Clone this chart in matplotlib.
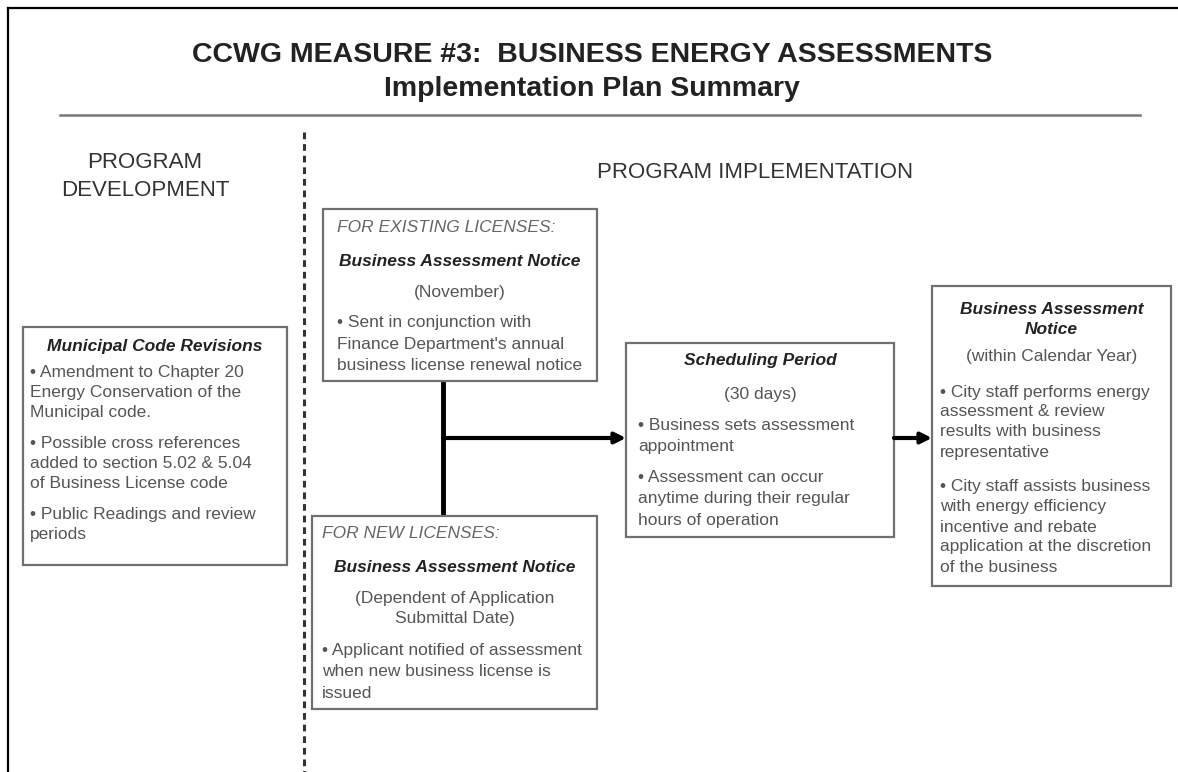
import matplotlib
matplotlib.use("Agg")
import matplotlib.pyplot as plt
from matplotlib.patches import Rectangle, FancyArrowPatch

plt.rcParams['font.family'] = ['Liberation Sans', 'DejaVu Sans']

W, H = 1178, 772

title_lines = ["CCWG MEASURE #3:  BUSINESS ENERGY ASSESSMENTS", "Implementation Plan Summary"]
section_left = ["PROGRAM", "DEVELOPMENT"]
section_right = "PROGRAM IMPLEMENTATION"

# Box contents: (kind, lines) with kind in {'cap','head','sub','bul'}
box_municipal = [
    ('head', ["Municipal Code Revisions"]),
    ('bul', ["• Amendment to Chapter 20", "Energy Conservation of the", "Municipal code."]),
    ('bul', ["• Possible cross references", "added to section 5.02 & 5.04", "of Business License code"]),
    ('bul', ["• Public Readings and review", "periods"]),
]
box_existing = [
    ('cap', ["FOR EXISTING LICENSES:"]),
    ('head', ["Business Assessment Notice"]),
    ('sub', ["(November)"]),
    ('bul', ["• Sent in conjunction with", "Finance Department's annual", "business license renewal notice"]),
]
box_new = [
    ('cap', ["FOR NEW LICENSES:"]),
    ('head', ["Business Assessment Notice"]),
    ('sub', ["(Dependent of Application", "Submittal Date)"]),
    ('bul', ["• Applicant notified of assessment", "when new business license is", "issued"]),
]
box_sched = [
    ('head', ["Scheduling Period"]),
    ('sub', ["(30 days)"]),
    ('bul', ["• Business sets assessment", "appointment"]),
    ('bul', ["• Assessment can occur", "anytime during their regular", "hours of operation"]),
]
box_final = [
    ('head', ["Business Assessment", "Notice"]),
    ('sub', ["(within Calendar Year)"]),
    ('bul', ["• City staff performs energy", "assessment & review", "results with business", "representative"]),
    ('bul', ["• City staff assists business", "with energy efficiency", "incentive and rebate", "application at the discretion", "of the business"]),
]

fig = plt.figure(figsize=(W / 100, H / 100), dpi=100)
ax = fig.add_axes([0, 0, 1, 1])
ax.set_xlim(0, W)
ax.set_ylim(H, 0)
ax.axis('off')

# outer frame (top and left)
ax.plot([8, W], [8, 8], color='black', lw=1.6)
ax.plot([8, 8], [8, H], color='black', lw=1.6)

ax.text(592, 55, title_lines[0], ha='center', va='center', fontsize=20.5, fontweight='bold', color='#222222')
ax.text(592, 89, title_lines[1], ha='center', va='center', fontsize=20.5, fontweight='bold', color='#222222')
ax.plot([60, 1140], [115, 115], color='#777777', lw=1.8)

ax.plot([304, 304], [132, H], color='#333333', lw=2.2, dashes=(2.2, 1.6))

ax.text(145, 163, section_left[0], ha='center', va='center', fontsize=16, color='#333333')
ax.text(145, 190, section_left[1], ha='center', va='center', fontsize=16, color='#333333')
ax.text(755, 172, section_right, ha='center', va='center', fontsize=16, color='#333333')

FS = 12.5


def draw_box(x0, y0, x1, y1, items, tx, y_positions, lh):
    ax.add_patch(Rectangle((x0, y0), x1 - x0, y1 - y0, fill=True, facecolor='white',
                           edgecolor='#707070', lw=1.6, zorder=2))
    cx = (x0 + x1) / 2
    for (kind, lines), y in zip(items, y_positions):
        for i, line in enumerate(lines):
            yy = y + i * lh
            if kind == 'cap':
                ax.text(tx, yy, line, ha='left', va='center', fontsize=FS, style='italic',
                        color='#666666', zorder=3)
            elif kind == 'head':
                ax.text(cx, yy, line, ha='center', va='center', fontsize=FS, style='italic',
                        fontweight='bold', color='#222222', zorder=3)
            elif kind == 'sub':
                ax.text(cx, yy, line, ha='center', va='center', fontsize=FS, color='#555555', zorder=3)
            else:
                ax.text(tx, yy, line, ha='left', va='center', fontsize=FS, color='#555555', zorder=3)


# connectors
ax.plot([443, 443], [381, 516], color='black', lw=3.5, zorder=1)
ax.add_patch(FancyArrowPatch((443, 438), (626, 438), arrowstyle='-|>', mutation_scale=16,
                             color='black', lw=3, zorder=4, shrinkA=0, shrinkB=0))
ax.add_patch(FancyArrowPatch((894, 438), (932, 438), arrowstyle='-|>', mutation_scale=16,
                             color='black', lw=3, zorder=4, shrinkA=0, shrinkB=0))

draw_box(23, 327, 287, 565, box_municipal, 30, [347, 373, 444, 514], 20)
draw_box(323, 209, 597, 381, box_existing, 337, [228, 261, 292, 323], 21.5)
draw_box(312, 516, 597, 709, box_new, 322, [534, 568, 598, 651], 21)
draw_box(626, 343, 894, 537, box_sched, 638, [361, 394, 425, 477], 21.5)
draw_box(932, 286, 1171, 586, box_final, 940, [309, 357, 392, 487], 20)

fig.savefig('out.png', dpi=100)
